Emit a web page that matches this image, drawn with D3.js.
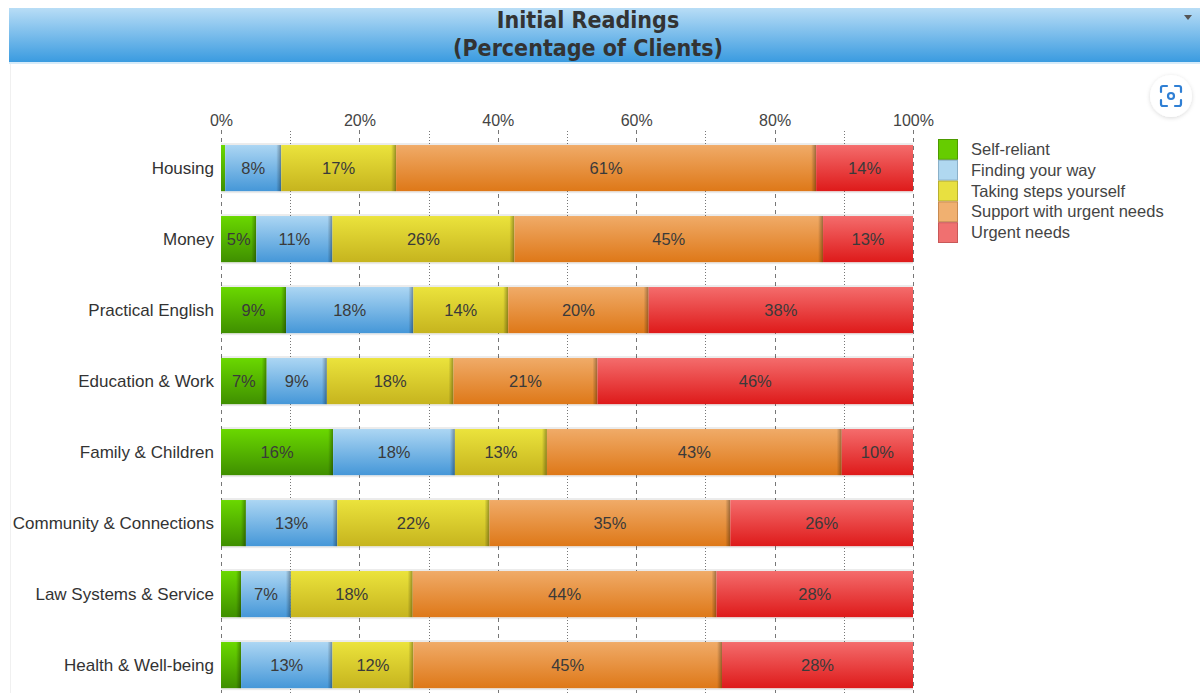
<!DOCTYPE html>
<html>
<head>
<meta charset="utf-8">
<script src="https://cdn.jsdelivr.net/npm/d3@7"></script>
<style>
  body { margin: 0; background: #fff; }
  svg { display: block; font-family: "Liberation Sans", Arial, sans-serif; }
</style>
</head>
<body>
<div id="chart"></div>
<script>
// data (percent of clients)
var categories = ["Housing", "Money", "Practical English", "Education & Work",
  "Family & Children", "Community & Connections", "Law Systems & Service", "Health & Well-being"];
var seriesNames = ["Self-reliant", "Finding your way", "Taking steps yourself",
  "Support with urgent needs", "Urgent needs"];
var selfReliant   = [0.6, 5.1, 9.4, 6.6, 16.2, 3.6, 2.9, 2.9];
var findingWay    = [8.1, 11.0, 18.4, 8.7, 17.6, 13.2, 7.2, 13.2];
var takingSteps   = [16.6, 26.3, 13.7, 18.3, 13.3, 22.0, 17.6, 11.7];
var supportUrgent = [60.7, 44.6, 20.3, 20.8, 42.6, 34.8, 43.9, 44.6];
var urgentNeeds   = [14.0, 13.0, 38.2, 45.6, 10.3, 26.4, 28.4, 27.6];
var xTicks = [0, 20, 40, 60, 80, 100];
var xMinor = [10, 30, 50, 70, 90];

var series = [selfReliant, findingWay, takingSteps, supportUrgent, urgentNeeds];
var barTop    = ["#6ad800", "#acd6f3", "#ebe33c", "#f0ab68", "#f46c6c"];
var barBottom = ["#3f8f00", "#4597d8", "#c6b41e", "#de7818", "#de1a1a"];
var legendFill = ["#66cc00", "#b0d8f0", "#e8e040", "#f0b070", "#f07070"];
var legendStroke = ["#4d9a00", "#8ab0c8", "#b8b030", "#c88a50", "#c85858"];

var W = 1200, H = 693;
var svg = d3.select("#chart").append("svg").attr("width", W).attr("height", H);
var defs = svg.append("defs");

// header band
var hg = defs.append("linearGradient").attr("id", "hdr").attr("x1", 0).attr("y1", 0).attr("x2", 0).attr("y2", 1);
hg.append("stop").attr("offset", "0%").attr("stop-color", "#b8ddf6");
hg.append("stop").attr("offset", "100%").attr("stop-color", "#3a9be0");
series.forEach(function(s, i) {
  var g = defs.append("linearGradient").attr("id", "bar" + i).attr("x1", 0).attr("y1", 0).attr("x2", 0).attr("y2", 1);
  g.append("stop").attr("offset", "0%").attr("stop-color", barTop[i]);
  g.append("stop").attr("offset", "100%").attr("stop-color", barBottom[i]);
});
var sh = defs.append("linearGradient").attr("id", "edge").attr("x1", 0).attr("y1", 0).attr("x2", 1).attr("y2", 0);
sh.append("stop").attr("offset", "0%").attr("stop-color", "#000").attr("stop-opacity", 0);
sh.append("stop").attr("offset", "100%").attr("stop-color", "#000").attr("stop-opacity", 0.35);
var btnShadow = defs.append("filter").attr("id", "btnsh").attr("x", "-50%").attr("y", "-50%").attr("width", "200%").attr("height", "200%");
btnShadow.append("feDropShadow").attr("dx", 0).attr("dy", 1).attr("stdDeviation", 2).attr("flood-color", "#000").attr("flood-opacity", 0.15);

// panel edge
svg.append("line").attr("x1", 10.5).attr("x2", 10.5).attr("y1", 62).attr("y2", H).attr("stroke", "#f0f0f0");

svg.append("rect").attr("x", 9).attr("y", 8).attr("width", W - 9).attr("height", 54).attr("fill", "url(#hdr)");
svg.append("rect").attr("x", 9).attr("y", 62).attr("width", W - 9).attr("height", 2).attr("fill", "#d6ebf9");
svg.append("text").attr("x", 588).attr("y", 28).attr("text-anchor", "middle")
  .style("font-family", "'DejaVu Sans Condensed', 'DejaVu Sans', sans-serif")
  .style("font-weight", "bold").style("font-size", "23px").attr("fill", "#333")
  .text("Initial Readings");
svg.append("text").attr("x", 588).attr("y", 56).attr("text-anchor", "middle")
  .style("font-family", "'DejaVu Sans Condensed', 'DejaVu Sans', sans-serif")
  .style("font-weight", "bold").style("font-size", "23px").attr("fill", "#333")
  .text("(Percentage of Clients)");
svg.append("path").attr("d", "M1184,15 L1192,15 L1188,20 Z").attr("fill", "#555");

// screenshot button
var btn = svg.append("g").attr("transform", "translate(1171,96)");
btn.append("circle").attr("r", 21).attr("fill", "#fff").attr("filter", "url(#btnsh)");
btn.append("path")
  .attr("d", "M-10,-4 V-8 Q-10,-10 -8,-10 H-4 M4,-10 H8 Q10,-10 10,-8 V-4 M10,4 V8 Q10,10 8,10 H4 M-4,10 H-8 Q-10,10 -10,8 V4")
  .attr("fill", "none").attr("stroke", "#2f7fd4").attr("stroke-width", 2.2).attr("stroke-linecap", "round");
btn.append("circle").attr("r", 3).attr("fill", "none").attr("stroke", "#2f7fd4").attr("stroke-width", 2.2);

// scales
var x = d3.scaleLinear().domain([0, 100]).range([221, 913]);
var y = d3.scaleBand().domain(categories).range([132.6, 700.6]).paddingInner(0.35).paddingOuter(0.175);

// grid
svg.append("g").selectAll("line").data(xMinor).join("line")
  .attr("x1", function(d) { return Math.round(x(d)) + 0.5; })
  .attr("x2", function(d) { return Math.round(x(d)) + 0.5; })
  .attr("y1", 131).attr("y2", H)
  .attr("stroke", "#777").attr("stroke-dasharray", "1,2");
svg.append("g").selectAll("line").data(xTicks).join("line")
  .attr("x1", function(d) { return Math.round(x(d)) + 0.5; })
  .attr("x2", function(d) { return Math.round(x(d)) + 0.5; })
  .attr("y1", 130).attr("y2", H)
  .attr("stroke", "#777").attr("stroke-dasharray", "4,4");

// top axis labels
var xAxis = d3.axisTop(x).tickValues(xTicks).tickFormat(function(d) { return d + "%"; }).tickSize(0).tickPadding(0);
var ax = svg.append("g").attr("transform", "translate(0,126)").call(xAxis);
ax.select(".domain").remove();
ax.selectAll("text").style("font-size", "16px").attr("fill", "#444");

// stacked bars
var rows = categories.map(function(c, i) {
  var r = { cat: c };
  seriesNames.forEach(function(n, k) { r[n] = series[k][i]; });
  return r;
});
var stack = d3.stack().keys(seriesNames)(rows);

var layers = svg.append("g").selectAll("g").data(stack).join("g");
layers.each(function(layer, k) {
  var g = d3.select(this);
  layer.forEach(function(d) {
    var x0 = x(d[0]), x1 = x(d[1]), yy = y(d.data.cat), h = y.bandwidth();
    g.append("rect").attr("x", x0).attr("y", yy).attr("width", x1 - x0).attr("height", h)
      .attr("fill", "url(#bar" + k + ")");
    if (k < seriesNames.length - 1 && x1 - x0 > 6) {
      g.append("rect").attr("x", x1 - 5).attr("y", yy).attr("width", 5).attr("height", h)
        .attr("fill", "url(#edge)");
    }
    var v = d[1] - d[0];
    if (x1 - x0 >= 28) {
      g.append("text").attr("x", (x0 + x1) / 2).attr("y", yy + h / 2 + 6)
        .attr("text-anchor", "middle").style("font-size", "16.5px").attr("fill", "#3a3a3a")
        .text(Math.round(v) + "%");
    }
  });
});

// bar top/bottom shading lines
svg.append("g").selectAll("rect").data(categories).join("rect")
  .attr("x", x(0)).attr("y", function(d) { return y(d) - 2; })
  .attr("width", x(100) - x(0)).attr("height", 2).attr("fill", "#000").attr("opacity", 0.08);
svg.append("g").selectAll("rect").data(categories).join("rect")
  .attr("x", x(0)).attr("y", function(d) { return y(d) + y.bandwidth(); })
  .attr("width", x(100) - x(0)).attr("height", 2).attr("fill", "#000").attr("opacity", 0.08);

// category labels
var yAxis = d3.axisLeft(y).tickSize(0).tickPadding(7);
var ay = svg.append("g").attr("transform", "translate(" + x(0) + ",0)").call(yAxis);
ay.select(".domain").remove();
ay.selectAll("text").style("font-size", "17px").attr("fill", "#333");

// legend
var lg = svg.append("g").attr("transform", "translate(938,139)");
var li = lg.selectAll("g").data(seriesNames).join("g")
  .attr("transform", function(d, i) { return "translate(0," + i * 20.8 + ")"; });
li.append("rect").attr("x", 0.5).attr("y", 0.5).attr("width", 19).attr("height", 19.8)
  .attr("fill", function(d, i) { return legendFill[i]; })
  .attr("stroke", function(d, i) { return legendStroke[i]; });
li.append("text").attr("x", 33).attr("y", 16).style("font-size", "16.5px").attr("fill", "#444")
  .text(function(d) { return d; });
</script>
</body>
</html>
